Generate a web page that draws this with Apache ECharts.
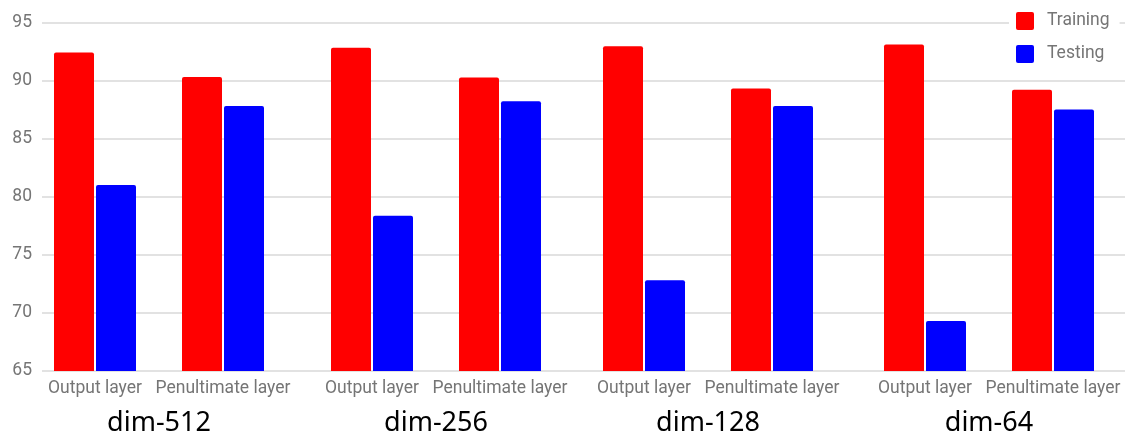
<!DOCTYPE html>
<html>
<head>
<meta charset="utf-8">
<script src="https://cdn.jsdelivr.net/npm/echarts@6/dist/echarts.min.js"></script>
<style>
html,body{margin:0;padding:0;background:#fff;}
#chart{width:1125px;height:445px;}
</style>
</head>
<body>
<div id="chart"></div>
<script>
const categories = ['Output layer', 'Penultimate layer'];
const groups = ['dim-512', 'dim-256', 'dim-128', 'dim-64'];
const trainingValues = [92.4, 90.3, 92.8, 90.25, 92.95, 89.3, 93.1, 89.2];
const testingValues = [81.0, 87.8, 78.35, 88.2, 72.8, 87.8, 69.3, 87.5];
const yTicks = [65, 70, 75, 80, 85, 90, 95];

const gray = '#757575';
const lineColor = '#d9d9d9';
const font = 'Roboto';
const TOP = 22.3, BOTTOM = 74;
const groupLefts = [31, 308, 580, 861];

const grid = [{ left: 42, right: 0, top: TOP, bottom: BOTTOM }];
const xAxis = [{ gridIndex: 0, type: 'category', data: [''], show: false }];
const yAxis = [{
  gridIndex: 0, type: 'value', min: yTicks[0], max: yTicks[yTicks.length - 1], interval: 5,
  axisLine: { show: false }, axisTick: { show: false },
  axisLabel: { color: gray, fontSize: 17.5, fontFamily: font, margin: 10 },
  splitLine: { lineStyle: { color: lineColor, width: 1.5 } }
}];
const series = [];

groups.forEach((g, i) => {
  const gi = i + 1;
  grid.push({ left: groupLefts[i], width: 256, top: TOP, bottom: BOTTOM });
  xAxis.push({
    gridIndex: gi, type: 'category', data: categories,
    axisLine: { show: false }, axisTick: { show: false },
    axisLabel: { color: gray, fontSize: 17.5, fontFamily: font, margin: 9, interval: 0 },
    name: g, nameLocation: 'middle', nameGap: 39,
    nameTextStyle: { color: '#000', fontSize: 27, fontFamily: 'Noto Sans' }
  });
  yAxis.push({ gridIndex: gi, type: 'value', min: 65, max: 95, interval: 5, show: false });
  series.push({
    name: 'Training', type: 'bar', xAxisIndex: gi, yAxisIndex: gi,
    data: trainingValues.slice(i * 2, i * 2 + 2),
    barWidth: 40, barGap: '5%',
    itemStyle: { color: '#ff0000', borderRadius: [2, 2, 0, 0] }
  });
  series.push({
    name: 'Testing', type: 'bar', xAxisIndex: gi, yAxisIndex: gi,
    data: testingValues.slice(i * 2, i * 2 + 2),
    barWidth: 40, barGap: '5%',
    itemStyle: { color: '#0000ff', borderRadius: [2, 2, 0, 0] }
  });
});

const chart = echarts.init(document.getElementById('chart'), null, { renderer: 'canvas' });
chart.setOption({
  animation: false,
  backgroundColor: '#fff',
  grid, xAxis, yAxis, series,
  legend: {
    data: ['Training', 'Testing'],
    orient: 'vertical', left: 1009, top: 5,
    padding: [7, 10, 7, 7],
    backgroundColor: '#fff',
    icon: 'path://M2,0 L16,0 Q18,0 18,2 L18,16 Q18,18 16,18 L2,18 Q0,18 0,16 L0,2 Q0,0 2,0 Z',
    itemWidth: 18, itemHeight: 18, itemGap: 15,
    textStyle: { color: gray, fontSize: 17.5, fontFamily: font, padding: [0, 0, 0, 8] }
  }
});
</script>
</body>
</html>
